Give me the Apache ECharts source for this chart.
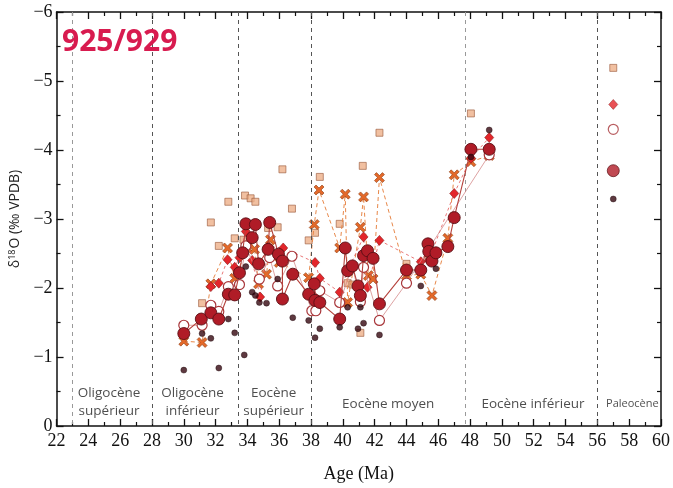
<!DOCTYPE html>
<html>
<head>
<meta charset="utf-8">
<script src="https://cdn.jsdelivr.net/npm/echarts@6/dist/echarts.min.js"></script>
<style>
html,body{margin:0;padding:0;background:#fff;}
#c{width:673px;height:488px;}
</style>
</head>
<body>
<div id="c"></div>
<script>
// ---- data: [age (Ma), δ18O (‰ VPDB)] ----
const bigCircle = [[30.0,-1.34],[31.1,-1.55],[31.7,-1.64],[32.2,-1.55],[32.8,-1.91],[33.2,-1.90],[33.5,-2.22],[33.7,-2.51],[33.9,-2.93],[34.3,-2.73],[34.5,-2.92],[34.7,-2.35],[35.3,-2.56],[35.4,-2.95],[35.95,-2.49],[36.2,-2.39],[36.2,-1.84],[36.85,-2.20],[37.85,-1.91],[38.2,-2.06],[38.25,-1.82],[38.55,-1.79],[39.8,-1.55],[40.15,-2.58],[40.3,-2.25],[40.6,-2.32],[40.95,-2.03],[41.1,-1.89],[41.3,-2.47],[41.55,-2.54],[41.9,-2.43],[42.3,-1.77],[44.0,-2.26],[44.9,-2.26],[45.35,-2.64],[45.4,-2.53],[45.6,-2.39],[45.85,-2.51],[46.6,-2.6],[47.0,-3.02],[48.05,-4.01],[49.2,-4.01]];
const crossSeries = [[30.0,-1.23],[31.15,-1.21],[31.7,-2.06],[32.75,-2.58],[33.2,-2.14],[34.0,-2.58],[34.45,-2.56],[34.7,-2.06],[35.2,-2.20],[35.45,-2.70],[36.0,-2.37],[37.85,-2.15],[38.2,-2.92],[38.5,-3.42],[39.8,-2.58],[40.15,-3.36],[40.3,-1.79],[41.1,-2.88],[41.3,-3.32],[41.6,-2.18],[41.9,-2.13],[42.3,-3.60],[44.0,-2.18],[44.9,-2.20],[45.6,-1.89],[46.6,-2.72],[47.0,-3.64],[48.05,-3.83],[49.2,-3.92]];
const diamondSeries = [[31.7,-2.02],[32.2,-2.07],[32.75,-2.41],[33.2,-2.30],[33.5,-2.44],[33.9,-2.82],[34.3,-2.40],[34.8,-1.87],[35.3,-2.60],[36.25,-2.58],[38.25,-2.37],[38.55,-2.14],[39.8,-1.94],[40.3,-2.25],[41.3,-2.74],[41.55,-2.01],[42.3,-2.69],[44.9,-2.38],[45.4,-2.40],[47.0,-3.37],[48.05,-3.88],[49.2,-4.18]];
const openCircle = [[30.0,-1.46],[31.15,-1.46],[31.7,-1.75],[32.2,-1.66],[32.8,-2.02],[33.5,-2.05],[33.9,-2.61],[34.75,-2.13],[35.4,-2.44],[35.9,-2.03],[36.8,-2.46],[38.05,-1.67],[38.3,-1.67],[38.55,-1.96],[39.8,-1.79],[40.6,-2.32],[41.1,-1.80],[41.3,-2.30],[42.3,-1.53],[44.0,-2.07],[49.2,-3.93]];
const squareSeries = [[31.15,-1.78],[31.7,-2.95],[32.2,-2.61],[32.8,-3.25],[33.2,-2.72],[33.75,-2.70],[33.85,-3.34],[34.2,-3.30],[34.5,-3.25],[35.3,-2.87],[35.9,-2.88],[36.2,-3.72],[36.8,-3.15],[37.85,-2.69],[38.25,-2.80],[38.55,-3.61],[39.8,-2.93],[40.3,-2.07],[40.6,-2.05],[41.1,-1.35],[41.25,-3.77],[42.3,-4.25],[44.0,-2.35],[45.4,-2.45],[48.05,-4.53]];
const darkDot = [[30.0,-0.81],[31.15,-1.34],[31.7,-1.27],[32.2,-0.84],[32.8,-1.55],[33.2,-1.35],[33.8,-1.03],[33.9,-2.31],[34.3,-1.94],[34.5,-1.89],[34.75,-1.79],[35.2,-1.78],[35.9,-2.13],[36.85,-1.57],[37.85,-1.53],[38.25,-1.28],[38.55,-1.41],[39.8,-1.43],[40.3,-1.72],[40.95,-1.41],[41.1,-1.72],[41.3,-1.49],[42.3,-1.32],[44.9,-2.03],[45.85,-2.28],[48.05,-3.90],[49.2,-4.29]];
// key symbols column (square, diamond, open circle, big circle, dark dot)
const keyAge = 57;
const keyValues = [-5.19, -4.66, -4.30, -3.70, -3.29];
// epoch boundaries and labels
const boundaries = [23, 28, 33.4, 38, 47.7, 56];
const epochNames = ['Oligocène\nsupérieur','Oligocène\ninférieur','Eocène\nsupérieur','Eocène moyen','Eocène inférieur','Paleocène'];
const epochAges = [25.3, 30.55, 35.65, 42.85, 51.95, 58.2];
const epochY = [-0.35, -0.35, -0.35, -0.32, -0.32, -0.32];
const xTicks = [22,60,2];
const yTicks = [-6,0,1];

const crossPath = 'path://M2,0L5,3L8,0L10,2L7,5L10,8L8,10L5,7L2,10L0,8L3,5L0,2Z';
const serif = '"Liberation Serif", "DejaVu Serif", serif';
const sans = '"Open Sans", "Noto Sans", sans-serif';

const chart = echarts.init(document.getElementById('c'), null, {renderer:'canvas'});

function xAx(pos, labels){
  return {type:'value', position:pos, min:xTicks[0], max:xTicks[1], interval:xTicks[2],
    axisLine:{show:true, onZero:false, lineStyle:{color:'#111', width:1.5}},
    axisTick:{show:true, inside:true, length:7, lineStyle:{color:'#111', width:1.3}},
    minorTick:{show:true, splitNumber:2, length:4, lineStyle:{color:'#111', width:1.2}},
    splitLine:{show:false},
    axisLabel:{show:labels, color:'#111', fontFamily:serif, fontSize:18, margin:6},
    name: labels ? 'Age (Ma)' : '', nameLocation:'middle', nameGap:39,
    nameTextStyle:{color:'#111', fontFamily:serif, fontSize:18}};
}
function yAx(pos, labels){
  return {type:'value', position:pos, min:yTicks[0], max:yTicks[1], interval:yTicks[2], inverse:true,
    axisLine:{show:true, onZero:false, lineStyle:{color:'#111', width:1.5}},
    axisTick:{show:true, inside:true, length:7, lineStyle:{color:'#111', width:1.3}},
    minorTick:{show:true, splitNumber:2, length:4, lineStyle:{color:'#111', width:1.2}},
    splitLine:{show:false},
    axisLabel:{show:labels, color:'#111', fontFamily:serif, fontSize:18, margin:4,
      formatter: v => v === 0 ? '0' : '\u2212' + Math.abs(v)},
    name: labels ? '{a|δ}{s|18}{a|O (‰ VPDB)}' : '', nameLocation:'middle', nameGap:25, nameRotate:90,
    nameTextStyle:{color:'#222', rich:{a:{fontFamily:sans, fontSize:14, color:'#222'}, s:{fontFamily:sans, fontSize:9, color:'#222', verticalAlign:'top', padding:[0,1,6,0]}}}};
}

const keyStyles = [
  {symbol:'rect', symbolSize:7, itemStyle:{color:'#eeb08a', borderColor:'#9a5a3c', borderWidth:0.8}},
  {symbol:'diamond', symbolSize:[9,10], itemStyle:{color:'#e3262b', borderColor:'#8a1a1a', borderWidth:0.6}},
  {symbol:'circle', symbolSize:10, itemStyle:{color:'#fff', borderColor:'#a8363a', borderWidth:1.2}},
  {symbol:'circle', symbolSize:12, itemStyle:{color:'#b01c27', borderColor:'#5a0f14', borderWidth:0.9}},
  {symbol:'circle', symbolSize:6, itemStyle:{color:'#360810', borderColor:'#1a0306', borderWidth:0.5}}
];

const series = [
  {name:'squares', type:'scatter', data:squareSeries, z:2, ...keyStyles[0]},
  {name:'crosses', type:'line', data:crossSeries, z:3, symbol:crossPath, symbolSize:10, symbolRotate:0,
    showSymbol:true, lineStyle:{color:'#e8884a', width:1, type:[4,3]},
    itemStyle:{color:'#e4692a', borderColor:'#8a3a10', borderWidth:0.6},
    markLine:{silent:true, symbol:['none','none'], label:{show:false},
      lineStyle:{color:'#666', type:[4,4], width:1},
      data: boundaries.map((b,i) => ({xAxis:b, lineStyle:{color: (i===0||i===4) ? '#999' : '#555'}}))}},
  {name:'diamonds', type:'line', data:diamondSeries, z:4, showSymbol:true, symbol:'diamond', symbolSize:[9,10],
    lineStyle:{color:'#e25555', width:0.8, type:[3,3]}, itemStyle:keyStyles[1].itemStyle},
  {name:'open', type:'line', data:openCircle, z:5, showSymbol:true, symbol:'circle', symbolSize:10,
    lineStyle:{color:'#d48a8a', width:0.8}, itemStyle:keyStyles[2].itemStyle},
  {name:'big', type:'line', data:bigCircle, z:6, showSymbol:true, symbol:'circle', symbolSize:12,
    lineStyle:{color:'#b5423c', width:1.1}, itemStyle:keyStyles[3].itemStyle},
  {name:'dark', type:'scatter', data:darkDot, z:7, ...keyStyles[4]},
  {name:'epochs', type:'scatter', symbolSize:0, z:1, silent:true,
    data: epochAges.map((a,i) => ({value:[a, epochY[i]], name:epochNames[i],
      label:{fontSize: i===5 ? 11 : 13.5}})),
    label:{show:true, position:'inside', formatter: p => p.name, color:'#222', fontFamily:sans, fontSize:13.5, lineHeight:18}}
];
keyValues.forEach((v,i) => {
  series.push({name:'key'+i, type:'scatter', data:[[keyAge, v]], z:8, ...keyStyles[i]});
});

chart.setOption({
  animation:false,
  backgroundColor:'#fff',
  grid:{left:53, right:11, top:12, bottom:58, containLabel:false},
  title:{text:'925/929', left:57, top:22, textStyle:{color:'#d81b4f', fontFamily:sans, fontWeight:'bold', fontSize:30}},
  xAxis:[xAx('bottom', true), xAx('top', false)],
  yAxis:[yAx('left', true), yAx('right', false)],
  series: series
});
</script>
</body>
</html>
